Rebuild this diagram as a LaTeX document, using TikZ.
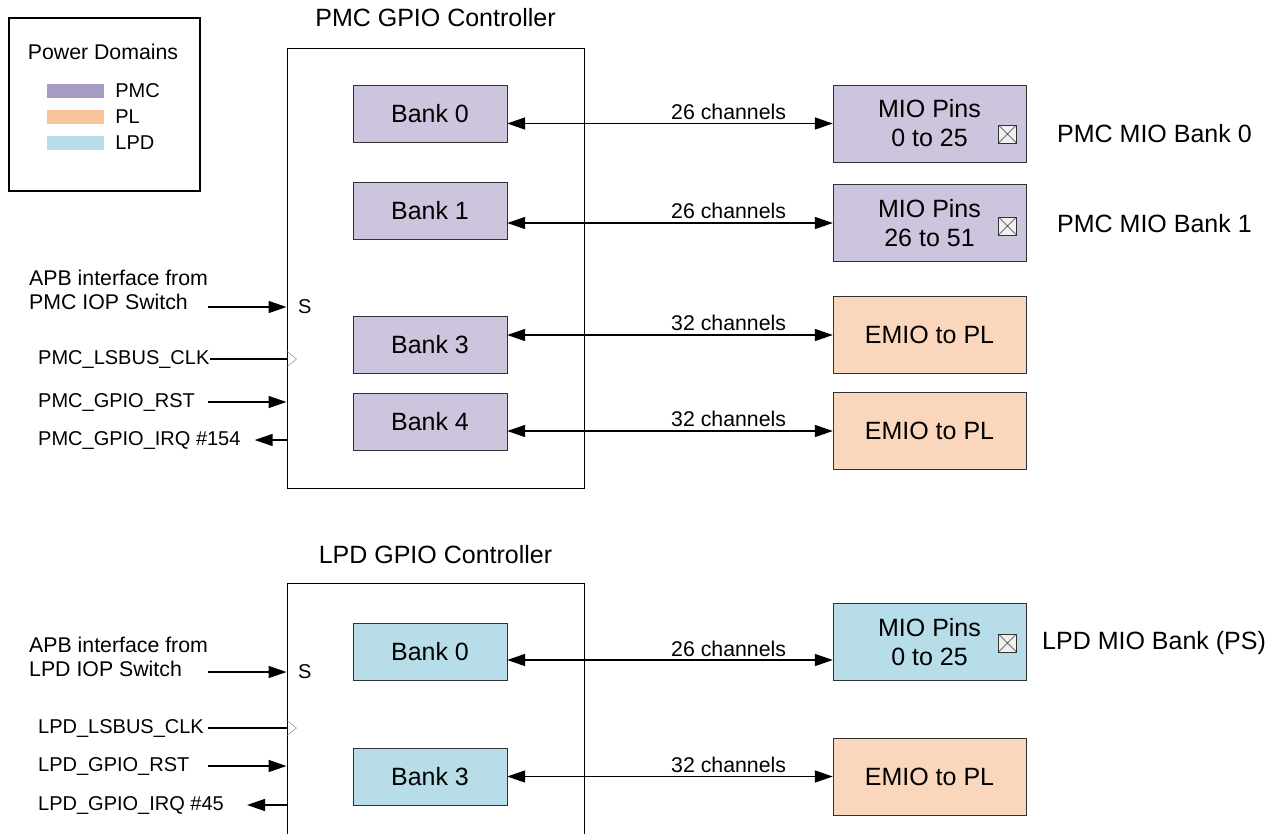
\documentclass[tikz,border=0pt]{standalone}
\usepackage{fontspec}
\setmainfont{Liberation Sans}
\usetikzlibrary{positioning, arrows.meta, calc}
\definecolor{pmcfill}{RGB}{205,196,221}
\definecolor{pmckey}{RGB}{168,155,195}
\definecolor{plfill}{RGB}{250,215,188}
\definecolor{plkey}{RGB}{248,197,155}
\definecolor{lpdfill}{RGB}{183,222,232}
\definecolor{lpdkey}{RGB}{183,222,232}
\definecolor{edgegray}{RGB}{50,50,50}
\definecolor{clkgray}{RGB}{120,120,120}
\newcommand{\lblbig}{\fontsize{25}{29}\selectfont}
\newcommand{\lblsmall}{\fontsize{20}{24}\selectfont}
\newcommand{\lblmid}{\fontsize{21.3}{24}\selectfont}

\begin{document}
\begin{tikzpicture}[x=1pt, y=-1pt,
        ctl/.style={draw, line width=1pt, minimum width=297pt, inner sep=0pt},
        bank/.style={draw=edgegray, fill=#1, minimum width=154pt, minimum height=57pt, inner sep=0pt, font=\lblbig},
        pin/.style={draw=edgegray, fill=#1, minimum width=193pt, minimum height=77pt, inner sep=0pt, align=center, font=\lblbig},
        pad/.style={draw=edgegray, fill=gray!12, minimum size=18pt, inner sep=0pt,
            path picture={\draw[edgegray] (path picture bounding box.north west) -- (path picture bounding box.south east)
                (path picture bounding box.south west) -- (path picture bounding box.north east);}},
        sig/.style={font=\lblsmall, inner sep=0pt, align=left},
        apb/.style={font=\lblmid, inner sep=0pt, align=left},
        ttl/.style={font=\lblbig, inner sep=0pt},
        key/.style={fill=#1, minimum width=57pt, minimum height=14pt, inner sep=0pt},
        arr/.style={-{Triangle[length=18pt, width=12pt]}, line width=1.6pt},
        bus/.style={{Triangle[length=18pt, width=12pt]}-{Triangle[length=18pt, width=12pt]}, line width=1.6pt},
        chan/.style={font=\lblmid, above, inner sep=3pt, pos=0.68}
    ]
    \useasboundingbox (0,0) rectangle (1282,833);
    \clip (0,0) rectangle (1282,833);

    % legend
    \node[draw, line width=2pt, minimum width=191pt, minimum height=173pt] (legend) at (104.5,104.5) {};
    \node[apb] (legttl) at (103,52) {Power Domains};
    \node[key=pmckey] (kpmc) at (75.5,91) {};
    \node[key=plkey] (kpl) at (75.5,117) {};
    \node[key=lpdkey] (klpd) at (75.5,143) {};
    \node[sig, right=11pt of kpmc] (kpmctxt) {PMC};
    \node[sig, right=11pt of kpl] (kpltxt) {PL};
    \node[sig, right=11pt of klpd] (klpdtxt) {LPD};

    % PMC controller
    \node[ttl] (pmcttl) at (435.5,18) {PMC GPIO Controller};
    \node[ctl, minimum height=440pt] (pmcctl) at (435.5,268) {};
    \node[bank=pmcfill] (pb0) at (430,114) {Bank 0};
    \node[bank=pmcfill] (pb1) at (430,210.5) {Bank 1};
    \node[bank=pmcfill] (pb3) at (430,344.5) {Bank 3};
    \node[bank=pmcfill] (pb4) at (430,421.5) {Bank 4};

    \node[pin=pmcfill] (pm0) at (929.5,123.5) {MIO Pins\\0 to 25};
    \node[pin=pmcfill] (pm1) at (929.5,223) {MIO Pins\\26 to 51};
    \node[pin=plfill] (pe3) at (929.5,335) {EMIO to PL};
    \node[pin=plfill] (pe4) at (929.5,431) {EMIO to PL};
    \node[pad] (pad0) at (1007.5,134) {};
    \node[pad] (pad1) at (1007.5,226) {};
    \node[ttl, anchor=west] (pmcb0) at (1057,134) {PMC MIO Bank 0};
    \node[ttl, anchor=west] (pmcb1) at (1057,224) {PMC MIO Bank 1};

    \draw[bus] (pb0.east |- pm0.west) -- node[chan] {26 channels} (pm0.west);
    \draw[bus] (pb1.east |- pm1.west) -- node[chan] {26 channels} (pm1.west);
    \draw[bus] (pb3.east |- pe3.west) -- node[chan] {32 channels} (pe3.west);
    \draw[bus] (pb4.east |- pe4.west) -- node[chan] {32 channels} (pe4.west);

    \node[apb, anchor=west] (pmcapb) at (29,290) {APB interface from\\PMC IOP Switch};
    \node[sig, anchor=west] (pmcslave) at (298,307) {S};
    \node[sig, anchor=west] (pmcclk) at (38,359) {PMC\_LSBUS\_CLK};
    \node[sig, anchor=west] (pmcrst) at (38,402) {PMC\_GPIO\_RST};
    \node[sig, anchor=west] (pmcirq) at (38,440) {PMC\_GPIO\_IRQ \#154};
    \coordinate (pmcclkin) at (pmcclk -| pmcctl.west);

    \draw[arr] (pmcslave -| pmcapb.east) -- (pmcslave -| pmcctl.west);
    \draw[line width=1.6pt] (pmcclk.east) -- (pmcclkin);
    \draw[clkgray] ([yshift=8pt]pmcclkin) -- ++(10,8) -- ++(-10,8);
    \draw[arr] (pmcrst -| pmcapb.east) -- (pmcrst -| pmcctl.west);
    \draw[arr] (pmcirq -| pmcctl.west) -- ([xshift=14pt]pmcirq.east);

    % LPD controller
    \node[ttl] (lpdttl) at (435.5,555) {LPD GPIO Controller};
    \node[ctl, minimum height=317pt] (lpdctl) at (435.5,741.5) {};
    \node[bank=lpdfill] (lb0) at (430,652) {Bank 0};
    \node[bank=lpdfill] (lb3) at (430,777) {Bank 3};

    \node[pin=lpdfill] (lm0) at (929.5,642) {MIO Pins\\0 to 25};
    \node[pin=plfill] (le3) at (929.5,776.5) {EMIO to PL};
    \node[pad] (lpad) at (1007.5,643) {};
    \node[ttl, anchor=west] (lpdb) at (1042,643) {LPD MIO Bank (PS)};
    \coordinate (lmrow) at ([yshift=-18pt]lm0.west);

    \draw[bus] (lb0.east |- lmrow) -- node[chan] {26 channels} (lmrow);
    \draw[bus] (lb3.east |- le3.west) -- node[chan] {32 channels} (le3.west);

    \node[apb, anchor=west] (lpdapb) at (29,657) {APB interface from\\LPD IOP Switch};
    \node[sig, anchor=west] (lpdslave) at (298,672) {S};
    \node[sig, anchor=west] (lpdclk) at (38,728) {LPD\_LSBUS\_CLK};
    \node[sig, anchor=west] (lpdrst) at (38,766) {LPD\_GPIO\_RST};
    \node[sig, anchor=west] (lpdirq) at (38,805) {LPD\_GPIO\_IRQ \#45};
    \coordinate (lpdclkin) at (lpdclk -| lpdctl.west);

    \draw[arr] (lpdslave -| lpdapb.east) -- (lpdslave -| lpdctl.west);
    \draw[line width=1.6pt] (lpdclk -| lpdapb.east) -- (lpdclkin);
    \draw[clkgray] ([yshift=8pt]lpdclkin) -- ++(10,8) -- ++(-10,8);
    \draw[arr] (lpdrst -| lpdapb.east) -- (lpdrst -| lpdctl.west);
    \draw[arr] (lpdirq -| lpdctl.west) -- ([xshift=23pt]lpdirq.east);

\end{tikzpicture}
\end{document}
